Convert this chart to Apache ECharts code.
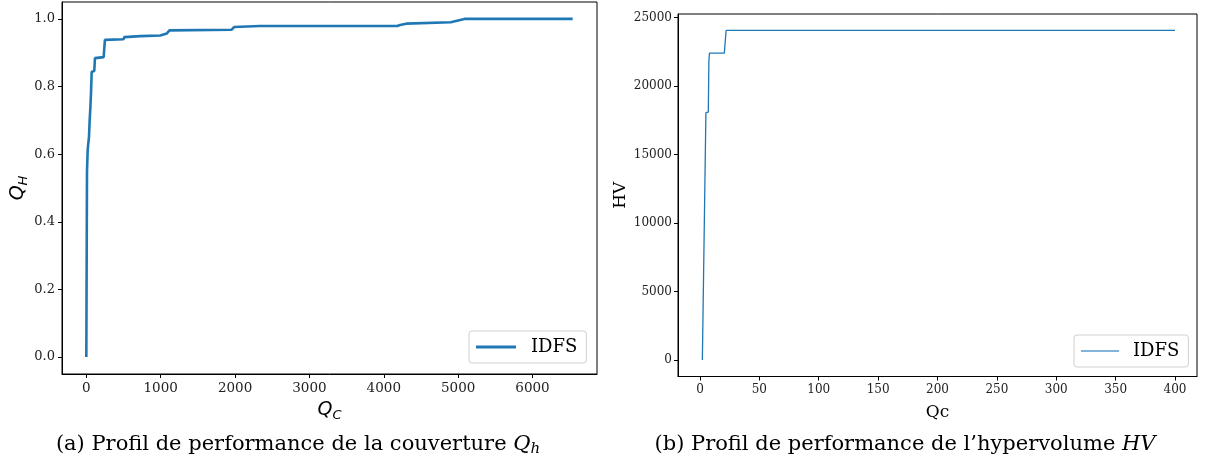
<!DOCTYPE html>
<html>
<head>
<meta charset="utf-8">
<script src="https://cdn.jsdelivr.net/npm/echarts/dist/echarts.min.js"></script>
<style>
  html, body { margin: 0; padding: 0; background: #fff; }
  #main { width: 1205px; height: 469px; }
</style>
</head>
<body>
<div id="main"></div>
<script>
// (a) coverage profile Q_H vs Q_C
var qcA = [0, 9, 18, 36, 45, 54, 63, 72, 107, 116, 233, 250, 500, 510, 725, 993, 1083, 1118, 1955, 1987, 2335, 4180, 4220, 4300, 4900, 5085, 6540];
var qhA = [0, 0.548, 0.612, 0.652, 0.70, 0.736, 0.78, 0.844, 0.846, 0.884, 0.887, 0.938, 0.940, 0.946, 0.949, 0.951, 0.957, 0.966, 0.968, 0.976, 0.979, 0.979, 0.982, 0.986, 0.990, 1.0, 1.0];
var ticksXA = [0, 1000, 2000, 3000, 4000, 5000, 6000];
var ticksYA = [0, 0.2, 0.4, 0.6, 0.8, 1.0];

// (b) hypervolume profile HV vs Qc
var qcB = [2, 3, 5, 7, 7.5, 8, 20.5, 22, 400];
var hvB = [0, 0, 18050, 18100, 21800, 22400, 22400, 24050, 24050];
var ticksXB = [0, 50, 100, 150, 200, 250, 300, 350, 400];
var ticksYB = [0, 5000, 10000, 15000, 20000, 25000];

var blue = "#1f77b4";
var serif = "DejaVu Serif";

function pairs(xs, ys) {
	return xs.map(function(x, i) { return [x, ys[i]]; });
}
function plain(v) {
	return String(v);
}

var chart = echarts.init(document.getElementById("main"));

var axisBase = {
	type: "value",
	splitLine: { show: false },
	axisLine: { show: true, onZero: false, lineStyle: { color: "#000", width: 1 } },
	axisTick: { show: true, length: 4, lineStyle: { color: "#000", width: 1 } }
};

var subRich = {
	q: { fontFamily: "DejaVu Sans", fontStyle: "italic", fontSize: 19, color: "#000" },
	s: { fontFamily: "DejaVu Sans", fontStyle: "italic", fontSize: 13, color: "#000", padding: [10, 0, 0, 0] }
};

var option = {
	animation: false,
	backgroundColor: "#fff",
	grid: [
		{ left: 62, top: 2, width: 535, height: 372, show: true, borderColor: "#000", borderWidth: 1 },
		{ left: 678, top: 14, width: 519, height: 362.5, show: true, borderColor: "#000", borderWidth: 1 }
	],
	xAxis: [
		Object.assign({}, axisBase, {
			gridIndex: 0, min: -327, max: 6867,
			axisTick: Object.assign({}, axisBase.axisTick, { customValues: ticksXA }),
			axisLabel: { customValues: ticksXA, formatter: plain, fontFamily: serif, fontSize: 13.5, color: "#222", margin: 7 },
			name: "{q|Q}{s|C}", nameLocation: "middle", nameGap: 25,
			nameTextStyle: { rich: subRich }
		}),
		Object.assign({}, axisBase, {
			gridIndex: 1, min: -18.5, max: 418.5,
			axisTick: Object.assign({}, axisBase.axisTick, { customValues: ticksXB }),
			axisLabel: { customValues: ticksXB, formatter: plain, fontFamily: serif, fontSize: 12, color: "#222", margin: 7 },
			name: "Qc", nameLocation: "middle", nameGap: 28,
			nameTextStyle: { fontFamily: serif, fontSize: 17, color: "#000" }
		})
	],
	yAxis: [
		Object.assign({}, axisBase, {
			gridIndex: 0, min: -0.05, max: 1.05,
			axisTick: Object.assign({}, axisBase.axisTick, { customValues: ticksYA }),
			axisLabel: {
				customValues: ticksYA, fontFamily: serif, fontSize: 13, color: "#222", margin: 7,
				formatter: function(v) { return v.toFixed(1); }
			},
			name: "{q|Q}{s|H}", nameLocation: "middle", nameGap: 32,
			nameTextStyle: { rich: subRich }
		}),
		Object.assign({}, axisBase, {
			gridIndex: 1, min: -1202, max: 25252,
			axisTick: Object.assign({}, axisBase.axisTick, { customValues: ticksYB }),
			axisLabel: { customValues: ticksYB, formatter: plain, fontFamily: serif, fontSize: 12, color: "#222", margin: 6 },
			name: "HV", nameLocation: "middle", nameGap: 49,
			nameTextStyle: { fontFamily: serif, fontSize: 17, color: "#000" }
		})
	],
	legend: [
		{
			left: 469, top: 331, padding: [7, 9, 7, 7],
			icon: "rect", itemWidth: 40, itemHeight: 3,
			borderColor: "#d0d0d0", borderWidth: 1, borderRadius: 3, backgroundColor: "rgba(255,255,255,0.8)",
			textStyle: { fontFamily: serif, fontSize: 18, color: "#000", padding: [0, 0, 0, 10] },
			data: [{ name: "IDFS" }]
		},
		{
			left: 1074, top: 335, padding: [7, 9, 7, 7],
			icon: "rect", itemWidth: 38, itemHeight: 1.5,
			borderColor: "#d0d0d0", borderWidth: 1, borderRadius: 3, backgroundColor: "rgba(255,255,255,0.8)",
			textStyle: { fontFamily: serif, fontSize: 18, color: "#000", padding: [0, 0, 0, 9] },
			data: [{ name: "IDFS", itemStyle: { color: "#5b9bd0" } }]
		}
	],
	series: [
		{
			name: "IDFS", type: "line", xAxisIndex: 0, yAxisIndex: 0,
			data: pairs(qcA, qhA), showSymbol: false, symbol: "none",
			lineStyle: { color: blue, width: 2.6 }, itemStyle: { color: blue }
		},
		{
			name: "IDFS", type: "line", xAxisIndex: 1, yAxisIndex: 1,
			data: pairs(qcB, hvB), showSymbol: false, symbol: "none",
			lineStyle: { color: blue, width: 1.3 }, itemStyle: { color: blue }
		}
	],
	// captions under each panel
	graphic: [
		{
			type: "text", x: 298, y: 445,
			style: {
				text: "(a) Profil de performance de la couverture {q|Q}{s|h}",
				fontFamily: serif, fontSize: 21, fill: "#000",
				align: "center", verticalAlign: "middle",
				rich: {
					q: { fontFamily: serif, fontStyle: "italic", fontSize: 21 },
					s: { fontFamily: serif, fontStyle: "italic", fontSize: 15, padding: [8, 0, 0, 0] }
				}
			}
		},
		{
			type: "text", x: 905, y: 445,
			style: {
				text: "(b) Profil de performance de l\u2019hypervolume {i|HV}",
				fontFamily: serif, fontSize: 21, fill: "#000",
				align: "center", verticalAlign: "middle",
				rich: {
					i: { fontFamily: serif, fontStyle: "italic", fontSize: 21 }
				}
			}
		}
	]
};

chart.setOption(option);
</script>
</body>
</html>
